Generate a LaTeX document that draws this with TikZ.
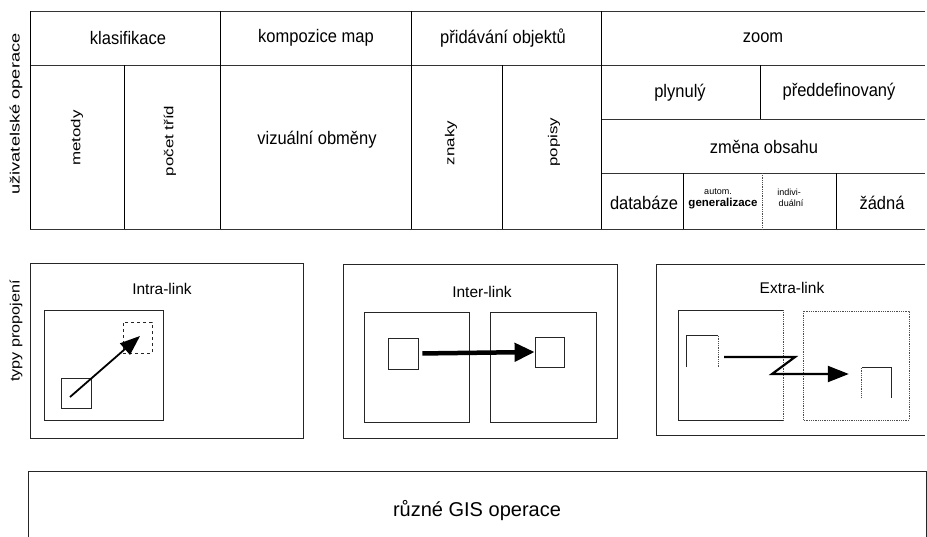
\documentclass[tikz,border=0pt]{standalone}
\usepackage{fontspec}
\setmainfont{Liberation Sans}
\usetikzlibrary{arrows.meta}
\newcommand{\hstr}[1]{\scalebox{1}[1.1]{#1}}
\newcommand{\vstr}[2]{\scalebox{#1}[1]{#2}}
\begin{document}
\begin{tikzpicture}[x=1pt,y=-1pt,
  hline/.style={draw=black!80,line width=0.8pt},
  vline/.style={draw=black,line width=1pt},
  boxline/.style={draw=black!85,line width=0.9pt},
  dotline/.style={draw=black!70,line width=0.8pt,densely dotted},
  celltext/.style={font=\fontsize{16.5}{19}\selectfont,inner sep=0pt},
  rottext/.style={font=\fontsize{13}{15}\selectfont,inner sep=0pt,rotate=90},
  sidetext/.style={font=\fontsize{13.5}{15}\selectfont,inner sep=0pt,rotate=90},
  smalltext/.style={font=\fontsize{9}{10}\selectfont,inner sep=0pt},
  titletext/.style={font=\fontsize{15.5}{18}\selectfont,inner sep=0pt},
  sqbox/.style={draw=black!85,line width=0.8pt,rectangle,inner sep=0pt,minimum width=30pt,minimum height=30pt},
  openbox/.style={rectangle,inner sep=0pt,minimum width=31pt,minimum height=31pt},
  arrA/.style={-{Triangle[length=20pt,width=15pt]},line width=1.8pt},
  arrB/.style={-{Triangle[length=20pt,width=18pt]},line width=4.5pt},
  arrC/.style={-{Triangle[length=21pt,width=16pt]},line width=2.2pt,line join=miter}
]
\useasboundingbox (0,0) rectangle (927,536);
\fill[white] (0,0) rectangle (927,536);

% ---------- top table ----------
\draw[hline] (30,11) -- (925,11);
\draw[hline] (30,65) -- (925,65);
\draw[hline] (30,229) -- (925,229);
\draw[hline] (601,119) -- (925,119);
\draw[hline] (601,173) -- (925,173);
\draw[vline] (30,11) -- (30,229);
\draw[vline] (220,11) -- (220,229);
\draw[vline] (411,11) -- (411,229);
\draw[vline] (601,11) -- (601,229);
\draw[vline] (124,65) -- (124,229);
\draw[vline] (502,65) -- (502,229);
\draw[vline] (760,65) -- (760,119);
\draw[vline] (683,173) -- (683,229);
\draw[dotline] (762,173) -- (762,229);
\draw[vline] (836,173) -- (836,229);

\node[sidetext] (uo) at (16,114) {\vstr{1.35}{uživatelské operace}};

\node[celltext] (kl) at (128,38) {\hstr{klasifikace}};
\node[celltext] (km) at (316,38) {\hstr{kompozice map}};
\node[celltext] (po) at (503,38) {\hstr{přidávání objektů}};
\node[celltext] (zo) at (763,38) {\hstr{zoom}};

\node[rottext] (me) at (77,138) {\vstr{1.3}{metody}};
\node[rottext] (pt) at (170,141) {\vstr{1.3}{počet tříd}};
\node[celltext] (vo) at (317,140) {\hstr{vizuální obměny}};
\node[rottext] (zn) at (451,143) {\vstr{1.3}{znaky}};
\node[rottext] (pp) at (554,142) {\vstr{1.3}{popisy}};

\node[celltext] (pl) at (680,93) {\hstr{plynulý}};
\node[celltext] (pd) at (839,92) {\hstr{předdefinovaný}};
\node[celltext] (zb) at (764,147) {\hstr{změna obsahu}};
\node[celltext] (db) at (644,203) {\hstr{databáze}};
\node[smalltext] (au) at (718,192) {autom.};
\node[font=\bfseries\fontsize{11.5}{12}\selectfont,inner sep=0pt] (ge) at (723,204) {generalizace};
\node[smalltext] (in) at (789,192) {indivi-};
\node[smalltext] (du) at (791,203) {duální};
\node[celltext] (za) at (882,203) {\hstr{žádná}};

% ---------- link types ----------
\node[sidetext] (tp) at (16,331) {\vstr{1.2}{typy propojení}};

% Intra-link
\draw[boxline] (30,263) rectangle (303,438);
\node[titletext] (ti) at (162,289) {Intra-link};
\draw[boxline] (44,310) rectangle (163,420);
\node[sqbox] (ia) at (76,393) {};
\node[sqbox,dashed,minimum width=29pt,minimum height=31pt] (ib) at (137.5,337.5) {};
\draw[arrA] ([xshift=-6pt,yshift=-4pt]ia.center) -- ([xshift=2.5pt,yshift=1.5pt]ib.center);

% Inter-link
\draw[boxline] (343,264) rectangle (617,438);
\node[titletext] (te) at (482,292) {Inter-link};
\draw[boxline] (364,312) rectangle (469,422);
\draw[boxline] (490,312) rectangle (596,422);
\node[sqbox,minimum height=31pt] (ea) at (403,353.5) {};
\node[sqbox,minimum width=29pt] (eb) at (549.5,352) {};
\draw[arrB,shorten <=4pt] (ea.east) -- (eb.west);

% Extra-link
\draw[boxline] (925,264) -- (656,264) -- (656,435) -- (925,435);
\node[titletext] (tx) at (792,288) {Extra-link};
\draw[boxline] (783,310) -- (678,310) -- (678,420) -- (783,420);
\draw[dotline] (783,310) -- (783,420);
\draw[dotline] (803,311) rectangle (909,420);
\node[openbox] (xa) at (702.5,351.5) {};
\node[openbox,minimum width=29pt,minimum height=30pt] (xb) at (876.5,383) {};
\draw[boxline] (xa.south west) -- (xa.north west) -- (xa.north east);
\draw[dotline] (xa.north east) -- (xa.south east);
\draw[boxline] (xb.north west) -- (xb.north east) -- (xb.south east);
\draw[dotline] (xb.north west) -- (xb.south west);
\coordinate (z1) at (795,357);
\coordinate (z2) at (772,374);
\path ([xshift=6pt]xa.east) coordinate (s1);
\path ([xshift=-13pt]xb.west) coordinate (e1);
\draw[arrC] (s1 |- z1) -- (z1) -- (z2) -- (e1 |- z2);

% ---------- bottom ----------
\draw[boxline] (28,540) -- (28,471) -- (926,471) -- (926,540);
\node[font=\fontsize{20}{23}\selectfont,inner sep=0pt] (gis) at (477,511) {různé GIS operace};
\end{tikzpicture}
\end{document}
